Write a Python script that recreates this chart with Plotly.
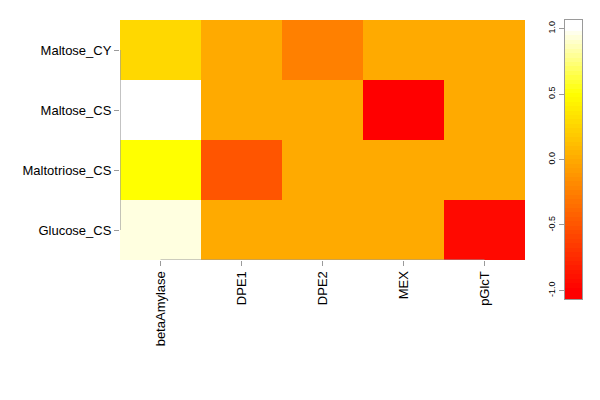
import plotly.graph_objects as go
import numpy as np

genes = ['betaAmylase', 'DPE1', 'DPE2', 'MEX', 'pGlcT']
samples = ['Glucose_CS', 'Maltotriose_CS', 'Maltose_CS', 'Maltose_CY']

# correlation values, rows bottom -> top
glucose_cs = [0.94, 0.0, 0.0, 0.0, -0.95]
maltotriose_cs = [0.5, -0.5, 0.0, 0.0, 0.0]
maltose_cs = [1.0, 0.0, 0.0, -1.0, 0.0]
maltose_cy = [0.27, 0.0, -0.25, 0.0, 0.0]

bar_ticks = [-1.0, -0.5, 0.0, 0.5, 1.0]

# R heat.colors: red -> yellow over 3/4, yellow -> white over last 1/4
heat = [[0.0, '#FF0000'], [0.75, '#FFFF00'], [1.0, '#FFFFFF']]

z = [glucose_cs, maltotriose_cs, maltose_cs, maltose_cy]
gray = '#9a9a9a'

fig = go.Figure()
fig.add_trace(go.Heatmap(
    z=z, x=list(range(len(genes))), y=list(range(len(samples))),
    colorscale=heat, zmin=-1, zmax=1, zsmooth=False,
    showscale=False, xaxis='x', yaxis='y'
))

# R-style axis lines running from first to last tick only
fig.add_trace(go.Scatter(x=[-0.5, -0.5], y=[0, len(samples) - 1], mode='lines',
                         line=dict(color=gray, width=1.2), cliponaxis=False,
                         showlegend=False, hoverinfo='skip'))
fig.add_trace(go.Scatter(x=[0, len(genes) - 1], y=[-0.5, -0.5], mode='lines',
                         line=dict(color=gray, width=1.2), cliponaxis=False,
                         showlegend=False, hoverinfo='skip'))

# legend strip drawn as its own heatmap so labels can sit on the left
lo, hi = -1.065, 1.065
levels = np.linspace(lo, hi, 64)
fig.add_trace(go.Heatmap(
    z=[[v] for v in levels], y=levels, x=[0],
    colorscale=heat, zmin=-1, zmax=1,
    showscale=False, xaxis='x2', yaxis='y2', hoverinfo='skip'
))

font = dict(family='Liberation Sans, Arial, sans-serif', size=13, color='#000000')

# page body adds 8px, so margins are pulled in by 8
pw, ph = 488, 279  # plot area in px
fig.update_layout(
    width=600, height=400,
    margin=dict(l=112, r=600 - 112 - pw, t=12, b=400 - 12 - ph),
    paper_bgcolor='white', plot_bgcolor='white',
    font=font, showlegend=False,
    xaxis=dict(domain=[0, 405 / pw], anchor='y', range=[-0.5, len(genes) - 0.5],
               tickvals=list(range(len(genes))), ticktext=genes,
               ticks='outside', ticklen=5, tickcolor=gray, tickangle=-90,
               showgrid=False, zeroline=False, showline=False, automargin=False),
    yaxis=dict(domain=[1 - 240 / ph, 1], anchor='x', range=[-0.5, len(samples) - 0.5],
               tickvals=list(range(len(samples))), ticktext=samples,
               ticks='outside', ticklen=5, tickcolor=gray,
               showgrid=False, zeroline=False, showline=False, automargin=False),
    xaxis2=dict(domain=[445 / pw, 462 / pw], anchor='y2', showticklabels=False,
                ticks='', showgrid=False, zeroline=False, showline=True,
                linecolor=gray, mirror=True, automargin=False),
    yaxis2=dict(domain=[0, 1], anchor='x2', range=[lo, hi], side='left',
                tickvals=bar_ticks, ticktext=['%.1f' % t for t in bar_ticks],
                ticks='outside', ticklen=5, tickcolor=gray, tickangle=-90,
                tickfont=dict(size=9), showgrid=False, zeroline=False,
                showline=True, linecolor=gray, mirror=True, automargin=False),
)

fig.write_html('out.html')
